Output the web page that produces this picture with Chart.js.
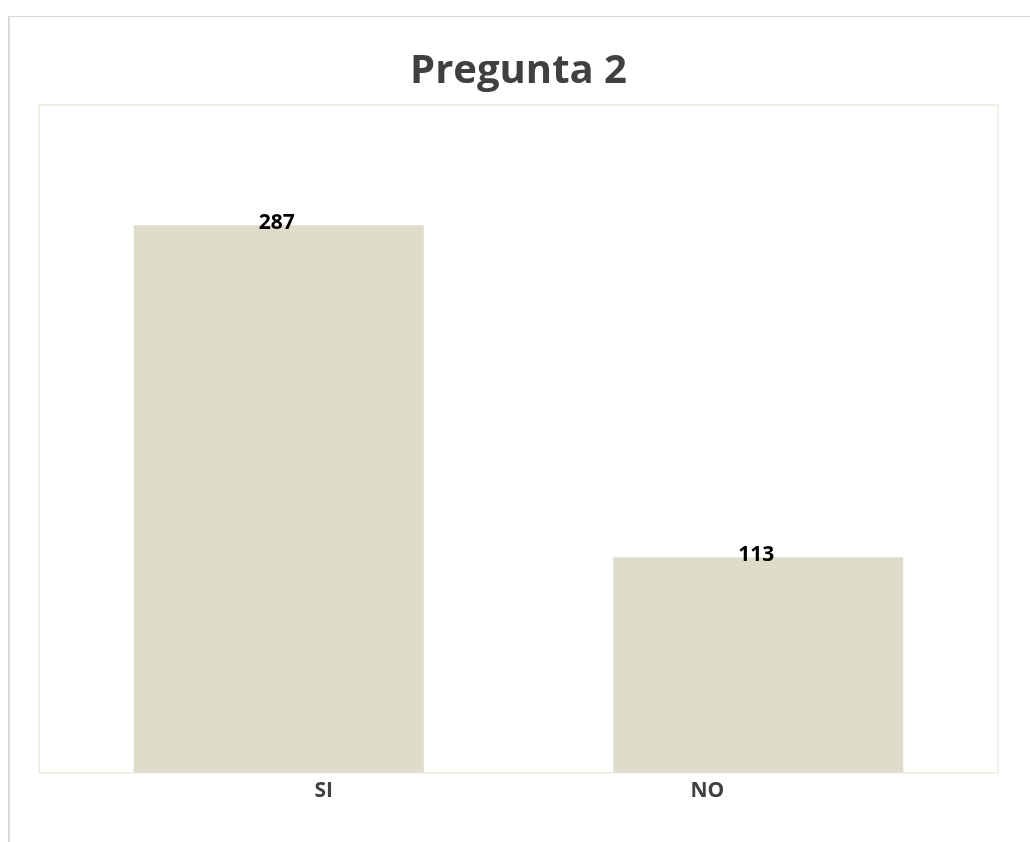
<!DOCTYPE html>
<html>
<head>
<meta charset="utf-8">
<title>Pregunta 2</title>
<script src="https://cdn.jsdelivr.net/npm/chart.js@4/dist/chart.umd.min.js"></script>
<style>
    html, body { margin: 0; padding: 0; background: #fff; }
    .frame {
        position: absolute; left: 8px; top: 16px; right: -4px; bottom: -4px;
        border-left: 2px solid #d9d9d9;
        border-top: 1px solid #d9d9d9;
    }
    #chart { position: absolute; left: 0; top: 0; }
</style>
</head>
<body>
<div class="frame"></div>
<canvas id="chart" width="1030" height="842"></canvas>
<script>
const categories = ['SI', 'NO'];
const respuestas = [287, 113];
const yMax = 350;

// the axis labels sit off the bar centres, so they go on a finer category axis
const labelSlots = ['', categories[0], '', categories[1], ''];

const FONT = '"Open Sans", "Liberation Sans", sans-serif';

// thin border round the plot area
const plotBorder = {
    id: 'plotBorder',
    beforeDatasetsDraw(chart) {
        const { ctx, chartArea: a } = chart;
        ctx.save();
        ctx.strokeStyle = '#efecdf';
        ctx.lineWidth = 1.5;
        ctx.strokeRect(a.left, a.top, a.right - a.left, a.bottom - a.top);
        ctx.restore();
    }
};

// value written on top of each bar
const barValues = {
    id: 'barValues',
    afterDatasetsDraw(chart) {
        const { ctx } = chart;
        const meta = chart.getDatasetMeta(0);
        ctx.save();
        ctx.font = 'bold 21px ' + FONT;
        ctx.fillStyle = '#000';
        ctx.textAlign = 'center';
        ctx.textBaseline = 'middle';
        meta.data.forEach((bar, i) => {
            ctx.fillText(String(respuestas[i]), bar.x - 2, bar.y - 2);
        });
        ctx.restore();
    }
};

new Chart(document.getElementById('chart'), {
    type: 'bar',
    data: {
        labels: categories,
        datasets: [{
            label: 'Pregunta 2',
            data: respuestas,
            backgroundColor: '#dfdcca',
            borderWidth: 0,
            barPercentage: 0.605,
            categoryPercentage: 1
        }]
    },
    options: {
        responsive: false,
        animation: false,
        layout: {
            padding: { left: 39, right: 32, top: 48, bottom: 32 }
        },
        plugins: {
            legend: { display: false },
            tooltip: { enabled: false },
            title: {
                display: true,
                text: 'Pregunta 2',
                color: '#404040',
                font: { family: FONT, size: 40, weight: 'bold' },
                padding: { top: 0, bottom: 9 }
            }
        },
        scales: {
            x: {
                display: false
            },
            xLabels: {
                type: 'category',
                position: 'bottom',
                labels: labelSlots,
                offset: true,
                grid: { display: false, drawTicks: false },
                border: { display: false },
                ticks: {
                    color: '#404040',
                    padding: 6,
                    labelOffset: -3,
                    autoSkip: false,
                    maxRotation: 0,
                    font: { family: FONT, size: 21, weight: 'bold' }
                }
            },
            y: {
                display: false,
                min: 0,
                max: yMax
            }
        }
    },
    plugins: [plotBorder, barValues]
});
</script>
</body>
</html>
